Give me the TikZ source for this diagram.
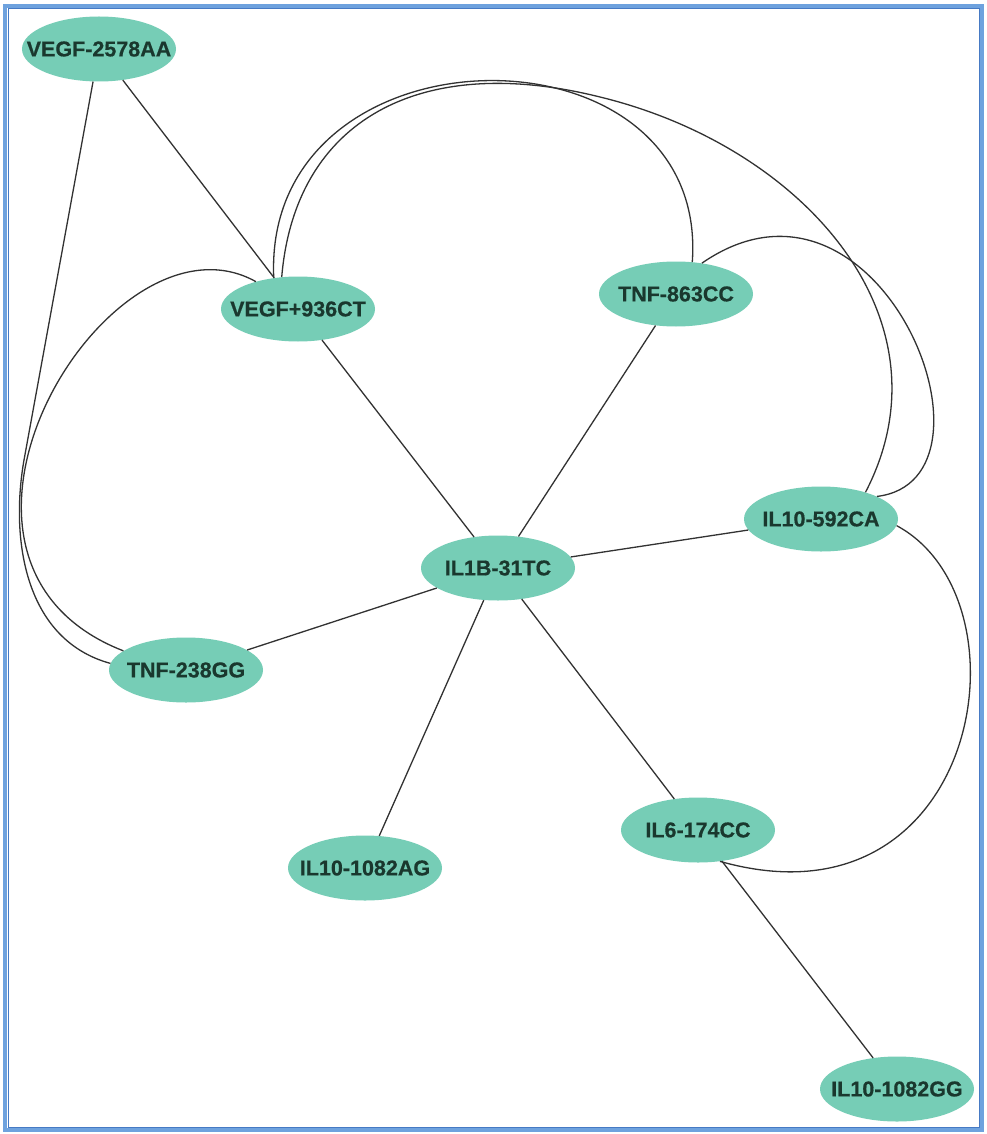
\documentclass[tikz,border=0pt]{standalone}
\usepackage{fontspec}
\setmainfont{Liberation Sans}[BoldFeatures={FakeBold=0.6}]
\usetikzlibrary{shapes.geometric}
\definecolor{nodefill}{RGB}{118,205,182}
\definecolor{nodetext}{RGB}{26,56,46}
\definecolor{edgecol}{RGB}{50,50,50}
\definecolor{frameblue}{RGB}{110,162,222}
\definecolor{framedark}{RGB}{70,122,196}
\newcommand{\lbl}[1]{\makebox[0pt]{#1}}
\begin{document}
\begin{tikzpicture}[x=1pt,y=-1pt,
  gene/.style={ellipse, fill=nodefill, draw=none, minimum width=154pt, minimum height=65pt,
    inner sep=0pt, font=\fontsize{21.5}{21.5}\selectfont\bfseries, text=nodetext},
  link/.style={draw=edgecol, line width=1.3pt}]
\useasboundingbox (0,0) rectangle (986,1134);
\fill[white] (0,0) rectangle (986,1134);
\draw[frameblue, line width=4pt] (5,6) rectangle (982,1130);
\draw[framedark, line width=1pt] (8,9) rectangle (979.5,1127);

\node[gene] (v2578) at (99,49) {\lbl{VEGF-2578AA}};
\node[gene] (v936) at (298,309) {\lbl{VEGF+936CT}};
\node[gene] (t863) at (676,294) {\lbl{TNF-863CC}};
\node[gene] (il1b) at (498,568) {\lbl{IL1B-31TC}};
\node[gene] (il592) at (821,519) {\lbl{IL10-592CA}};
\node[gene] (t238) at (186,670) {\lbl{TNF-238GG}};
\node[gene] (ag) at (365,868) {\lbl{IL10-1082AG}};
\node[gene] (il6) at (698,830) {\lbl{IL6-174CC}};
\node[gene] (gg) at (897,1089) {\lbl{IL10-1082GG}};

\coordinate (kink) at (24,460);
\coordinate (mtop) at (600,97);

% straight edges
\draw[link] (v2578) -- (v936);
\draw[link] (v936) -- (il1b);
\draw[link] (t863) -- (il1b);
\draw[link] (il592) -- (il1b);
\draw[link] (t238) -- (il1b);
\draw[link] (ag) -- (il1b);
\draw[link] (il6) -- (il1b);
\draw[link] (il6) -- (gg);

% curved edges
\draw[link] (v2578) -- (kink) .. controls (10,540) and (25,640) .. (t238.175);
\draw[link] (v936.147) .. controls (110,200) and (-110,560) .. (t238.163);
\draw[link] (v936.128) .. controls (262,20) and (710,15) .. (t863.63);
\draw[link] (v936.117) .. controls (295,120) and (420,52) .. (mtop)
  .. controls (805,147) and (955,320) .. (il592.31);
\draw[link] (t863.50) .. controls (880,140) and (1015,480) .. (il592.22);
\draw[link] (il592.-5) .. controls (1035,600) and (980,935) .. (il6.-55);
\end{tikzpicture}
\end{document}
